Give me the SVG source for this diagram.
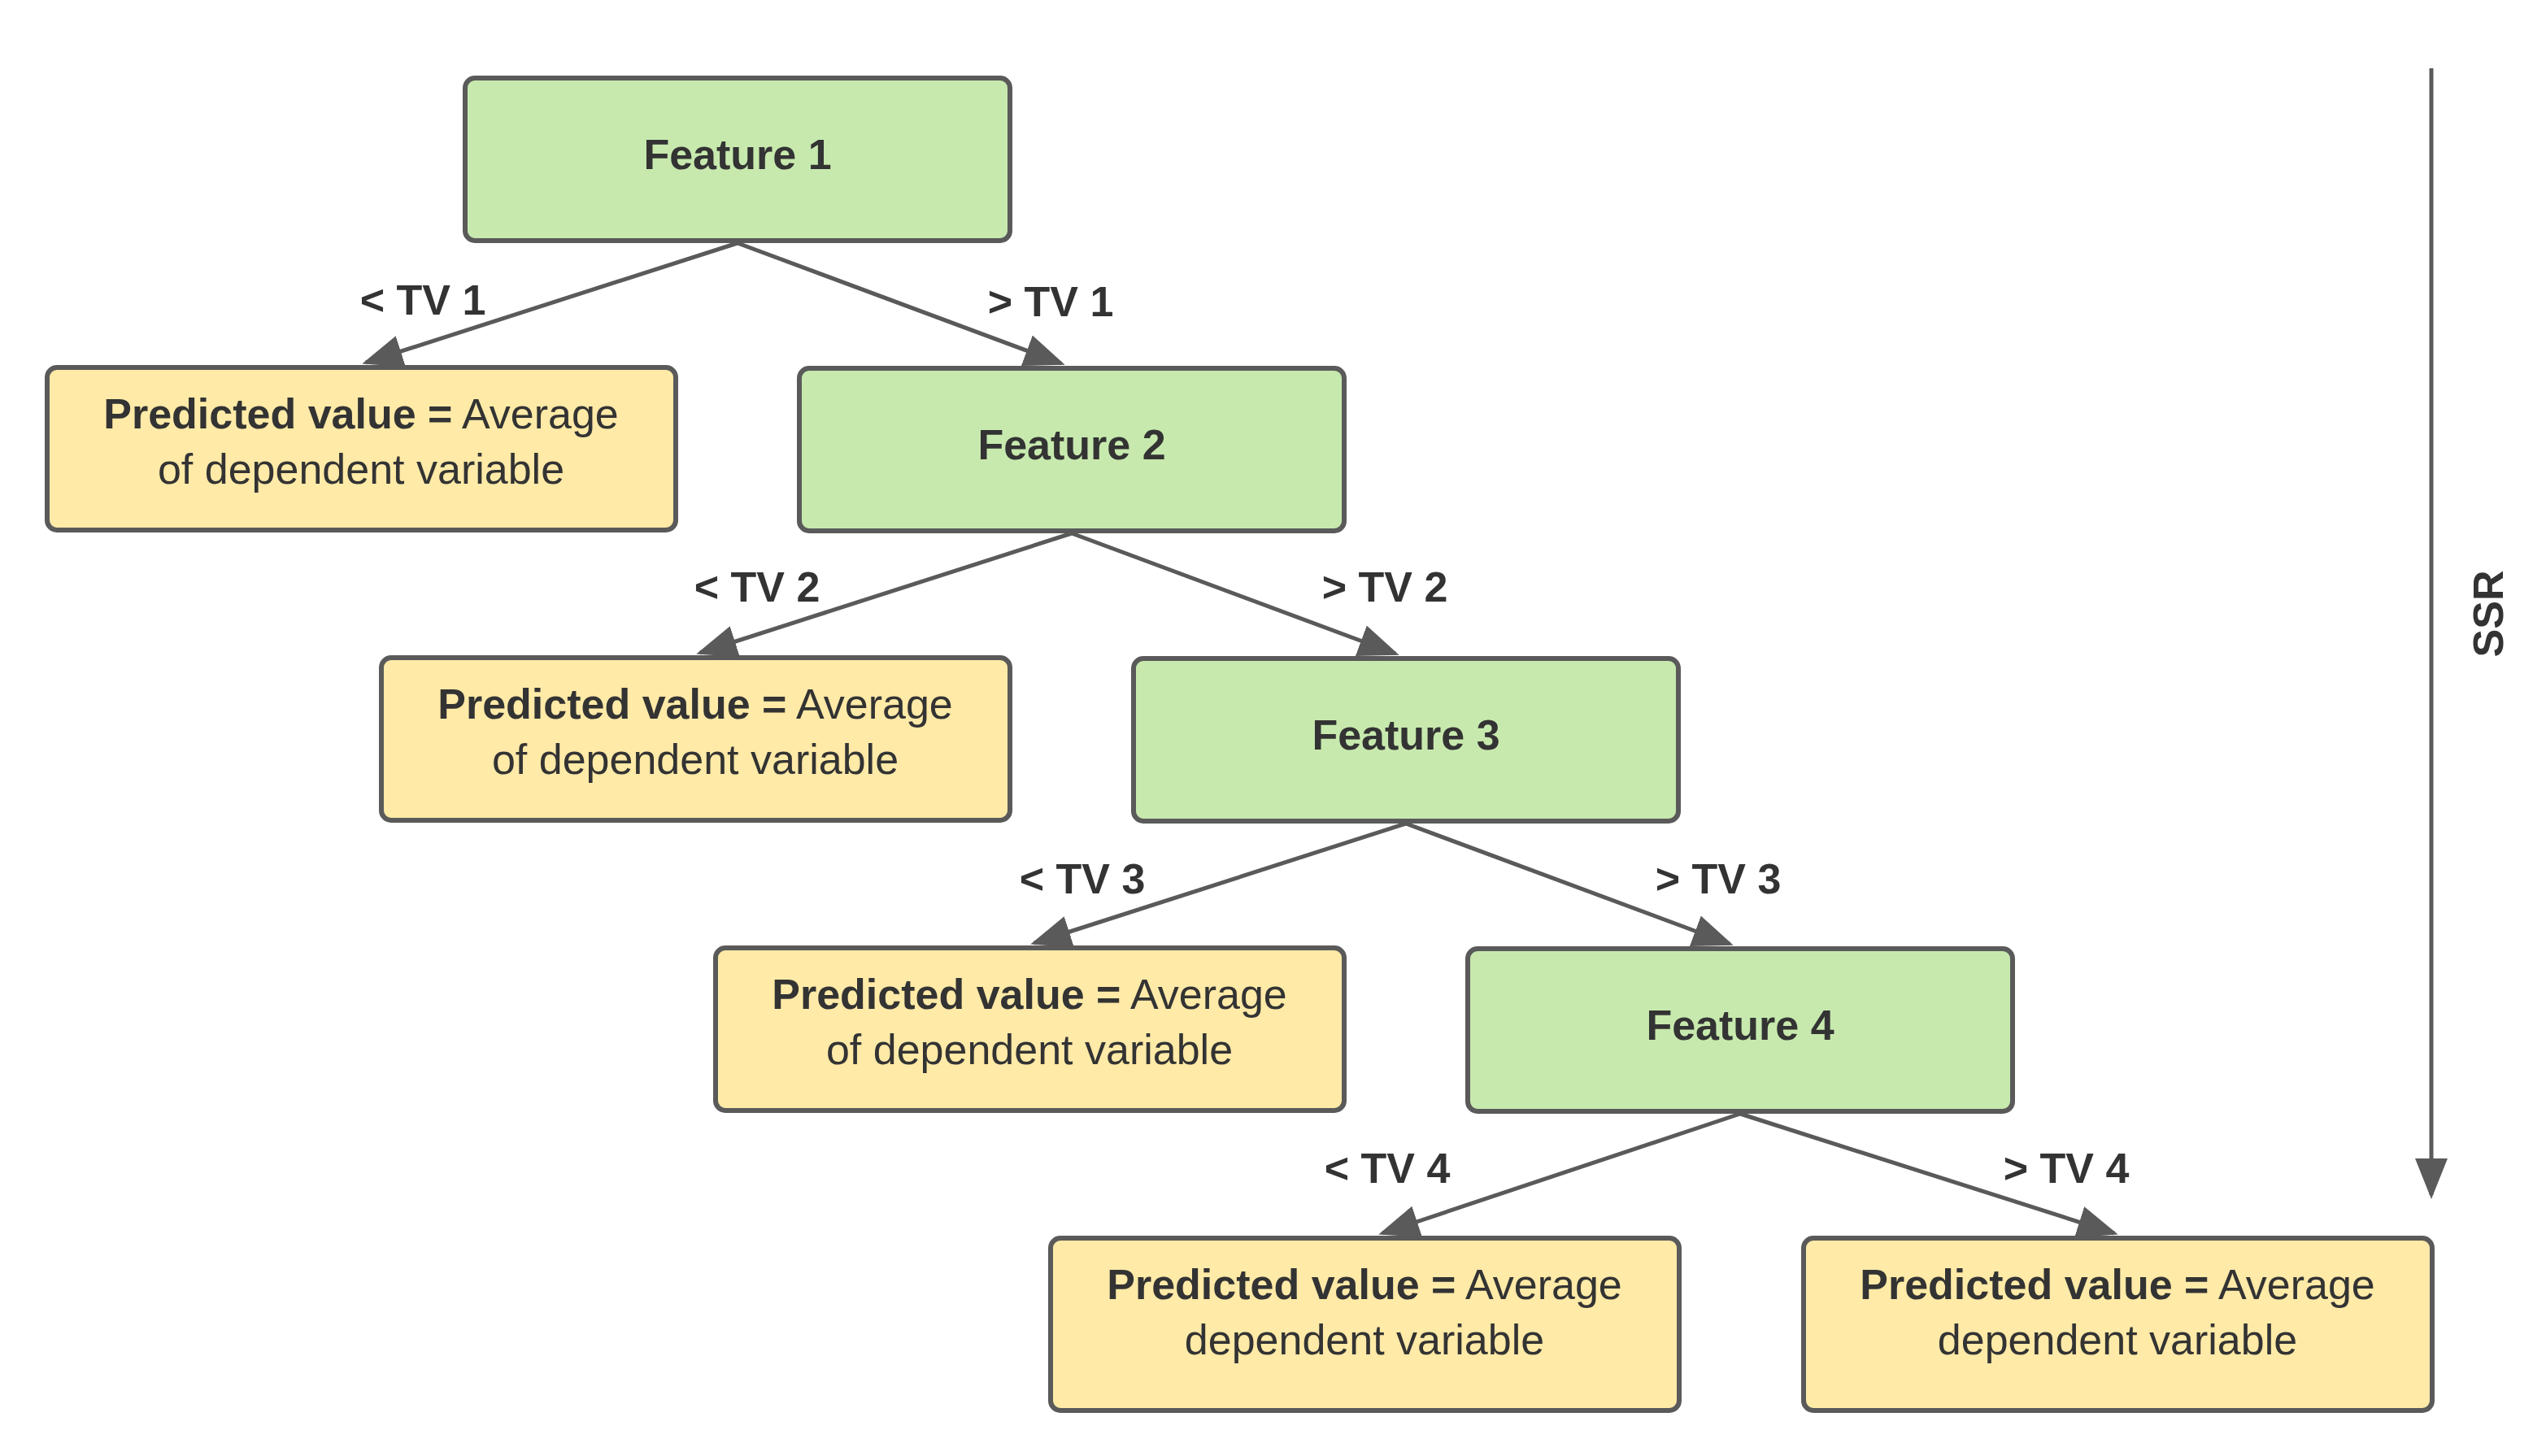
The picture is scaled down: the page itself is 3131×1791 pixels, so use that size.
<svg xmlns="http://www.w3.org/2000/svg" width="3131" height="1791" viewBox="0 0 3131 1791">
<style>
.f{fill:#c7e9ae;stroke:#5a5a5a;stroke-width:6}
.l{fill:#ffeaa7;stroke:#5a5a5a;stroke-width:6}
text{font-family:"Liberation Sans",Arial,sans-serif;fill:#333;font-size:52px;text-anchor:middle}
.b{font-weight:bold}
.c{stroke:#5a5a5a;stroke-width:5;fill:none;marker-end:url(#a)}
</style>
<defs><marker id="a" markerWidth="10" markerHeight="8" refX="9" refY="4" orient="auto" markerUnits="strokeWidth"><path d="M0,0L10,4L0,8z" fill="#5a5a5a"/></marker></defs>
<rect width="3131" height="1791" fill="#fff"/>
<g id="feature1"><rect class="f" x="572" y="96" width="670" height="200" rx="12"/><text class="b" x="907" y="208">Feature 1</text></g>
<g id="feature2"><rect class="f" x="983" y="453" width="670" height="200" rx="12"/><text class="b" x="1318" y="565">Feature 2</text></g>
<g id="feature3"><rect class="f" x="1394" y="810" width="670" height="200" rx="12"/><text class="b" x="1729" y="922">Feature 3</text></g>
<g id="feature4"><rect class="f" x="1805" y="1167" width="670" height="200" rx="12"/><text class="b" x="2140" y="1279">Feature 4</text></g>
<g id="leaf1"><rect class="l" x="58" y="452" width="773" height="200" rx="12"/><text x="444" y="527"><tspan class="b">Predicted value =</tspan> Average</text><text x="444" y="595">of dependent variable</text></g>
<g id="leaf2"><rect class="l" x="469" y="809" width="773" height="200" rx="12"/><text x="855" y="884"><tspan class="b">Predicted value =</tspan> Average</text><text x="855" y="952">of dependent variable</text></g>
<g id="leaf3"><rect class="l" x="880" y="1166" width="773" height="200" rx="12"/><text x="1266" y="1241"><tspan class="b">Predicted value =</tspan> Average</text><text x="1266" y="1309">of dependent variable</text></g>
<g id="leaf4"><rect class="l" x="1292" y="1523" width="773" height="212" rx="12"/><text x="1678" y="1598"><tspan class="b">Predicted value =</tspan> Average</text><text x="1678" y="1666">dependent variable</text></g>
<g id="leaf5"><rect class="l" x="2218" y="1523" width="773" height="212" rx="12"/><text x="2604" y="1598"><tspan class="b">Predicted value =</tspan> Average</text><text x="2604" y="1666">dependent variable</text></g>
<g id="connectors">
<line class="c" x1="907" y1="299" x2="450" y2="446"/>
<line class="c" x1="907" y1="299" x2="1305" y2="447"/>
<line class="c" x1="1318" y1="656" x2="861" y2="803"/>
<line class="c" x1="1318" y1="656" x2="1716" y2="804"/>
<line class="c" x1="1729" y1="1013" x2="1272" y2="1160"/>
<line class="c" x1="1729" y1="1013" x2="2127" y2="1161"/>
<line class="c" x1="2140" y1="1370" x2="1700" y2="1517"/>
<line class="c" x1="2140" y1="1370" x2="2600" y2="1517"/>
<line class="c" x1="2990" y1="84" x2="2990" y2="1470"/>
</g>
<g id="labels" class="b">
<text class="b" x="520" y="387">&lt; TV 1</text>
<text class="b" x="1292" y="389">&gt; TV 1</text>
<text class="b" x="931" y="740">&lt; TV 2</text>
<text class="b" x="1703" y="740">&gt; TV 2</text>
<text class="b" x="1331" y="1099">&lt; TV 3</text>
<text class="b" x="2113" y="1099">&gt; TV 3</text>
<text class="b" x="1706" y="1455">&lt; TV 4</text>
<text class="b" x="2541" y="1455">&gt; TV 4</text>
<text class="b" transform="translate(3078,755) rotate(-90)">SSR</text>
</g>
</svg>
